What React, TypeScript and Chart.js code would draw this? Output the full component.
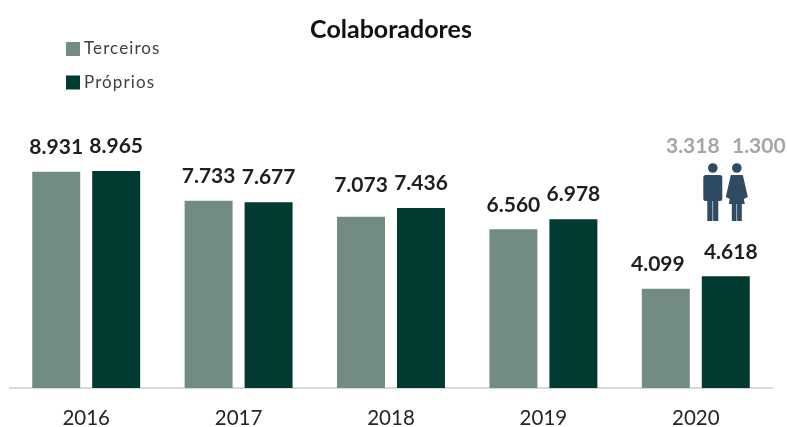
import React, { useEffect, useRef } from "react";
import { Chart, registerables } from "chart.js";

Chart.register(...registerables);

const years = ["2016", "2017", "2018", "2019", "2020"];
const terceiros = [8931, 7733, 7073, 6560, 4099];
const proprios = [8965, 7677, 7436, 6978, 4618];
const menCount = 3318;
const womenCount = 1300;

const TERCEIROS_COLOR = "#738c82";
const PROPRIOS_COLOR = "#003a30";
const ICON_COLOR = "#2f4a63";
const FONT = "Lato, sans-serif";

const formatPt = (v: number) => {
  const s = String(v);
  return s.slice(0, -3) + "." + s.slice(-3);
};

// Value labels above each bar.
const valueLabels = {
  id: "valueLabels",
  afterDatasetsDraw(chart: any) {
    const { ctx } = chart;
    ctx.save();
    ctx.font = `bold 21px ${FONT}`;
    ctx.fillStyle = "#1f1f1f";
    ctx.textAlign = "center";
    ctx.textBaseline = "middle";
    chart.data.datasets.forEach((ds: any, di: number) => {
      chart.getDatasetMeta(di).data.forEach((bar: any, i: number) => {
        // The 2018 Terceiros label sits level with its neighbour.
        const lift = di === 0 && i === 2 ? 32 : 24.5;
        // The last pair of labels is spread apart.
        const spread = i === years.length - 1 ? (di === 0 ? -8 : 5) : 0;
        ctx.fillText(formatPt(ds.data[i]), bar.x + spread, bar.y - lift);
      });
    });
    ctx.restore();
  },
};

// Legend stacked vertically in the top left corner.
const stackedLegend = {
  id: "stackedLegend",
  afterDraw(chart: any) {
    const { ctx } = chart;
    ctx.save();
    ctx.font = `17px ${FONT}`;
    (ctx as any).letterSpacing = "1.1px";
    ctx.textBaseline = "middle";
    ctx.textAlign = "left";
    chart.data.datasets.forEach((ds: any, i: number) => {
      const y = 49 + i * 33.5;
      ctx.fillStyle = ds.backgroundColor;
      ctx.fillRect(66, y - 7, 14, 14);
      ctx.fillStyle = "#404040";
      ctx.fillText(ds.label, 84, y);
    });
    ctx.restore();
  },
};

const drawMan = (ctx: CanvasRenderingContext2D, cx: number, top: number) => {
  ctx.beginPath();
  ctx.arc(cx, top + 5, 4.8, 0, Math.PI * 2);
  ctx.fill();
  ctx.beginPath();
  ctx.roundRect(cx - 9.5, top + 12, 19, 26, 2.5);
  ctx.fill();
  ctx.fillRect(cx - 5.5, top + 36, 5.2, 22);
  ctx.fillRect(cx + 0.3, top + 36, 5.2, 22);
};

const drawWoman = (ctx: CanvasRenderingContext2D, cx: number, top: number) => {
  ctx.beginPath();
  ctx.arc(cx, top + 5, 4.8, 0, Math.PI * 2);
  ctx.fill();
  ctx.beginPath();
  ctx.moveTo(cx - 6, top + 12);
  ctx.lineTo(cx + 6, top + 12);
  ctx.lineTo(cx + 11, top + 34);
  ctx.lineTo(cx + 7, top + 36);
  ctx.lineTo(cx + 8, top + 41);
  ctx.lineTo(cx - 8, top + 41);
  ctx.lineTo(cx - 7, top + 36);
  ctx.lineTo(cx - 11, top + 34);
  ctx.closePath();
  ctx.fill();
  ctx.fillRect(cx - 5, top + 40, 4.7, 18);
  ctx.fillRect(cx + 0.3, top + 40, 4.7, 18);
};

// Headcount split by gender for the latest year, with its pictograms.
const genderNote = {
  id: "genderNote",
  afterDraw(chart: any) {
    const { ctx, scales } = chart;
    const center = scales.x.getPixelForValue(years.length - 1);
    ctx.save();
    ctx.font = `bold 21px ${FONT}`;
    ctx.fillStyle = "#a6a6a6";
    ctx.textAlign = "center";
    ctx.textBaseline = "middle";
    ctx.fillText(formatPt(menCount), center - 3, 146);
    ctx.fillText(formatPt(womenCount), center + 63, 146);
    ctx.fillStyle = ICON_COLOR;
    drawMan(ctx, center + 17, 163);
    drawWoman(ctx, center + 41, 163);
    ctx.restore();
  },
};

export default function App() {
  const canvasRef = useRef<HTMLCanvasElement>(null);

  useEffect(() => {
    const chart = new Chart(canvasRef.current!, {
      type: "bar",
      data: {
        labels: years,
        datasets: [
          { label: "Terceiros", data: terceiros, backgroundColor: TERCEIROS_COLOR },
          { label: "Próprios", data: proprios, backgroundColor: PROPRIOS_COLOR },
        ],
      },
      options: {
        animation: false,
        responsive: false,
        layout: { padding: { left: 10, right: 15, top: 15, bottom: 0 } },
        datasets: { bar: { categoryPercentage: 0.787, barPercentage: 0.8 } },
        plugins: {
          legend: { display: false },
          tooltip: { enabled: false },
          title: {
            display: true,
            text: "Colaboradores",
            color: "#111111",
            font: { family: FONT, size: 25, weight: "bold" },
            padding: { top: 0, bottom: 101 },
          },
        },
        scales: {
          x: {
            grid: { display: false },
            border: { color: "#d9d9d9", width: 2 },
            ticks: { color: "#262626", font: { family: FONT, size: 20.5 }, padding: 10 },
            afterFit(scale: any) {
              scale.height = 39;
            },
          },
          y: { display: false, min: 0, max: 10000 },
        },
      } as any,
      plugins: [valueLabels, stackedLegend, genderNote],
    });
    return () => chart.destroy();
  }, []);

  return (
    <div style={{ position: "fixed", left: 0, top: 0, width: 787, height: 427, background: "#fff" }}>
      <canvas ref={canvasRef} width={787} height={427} style={{ display: "block" }} />
    </div>
  );
}
